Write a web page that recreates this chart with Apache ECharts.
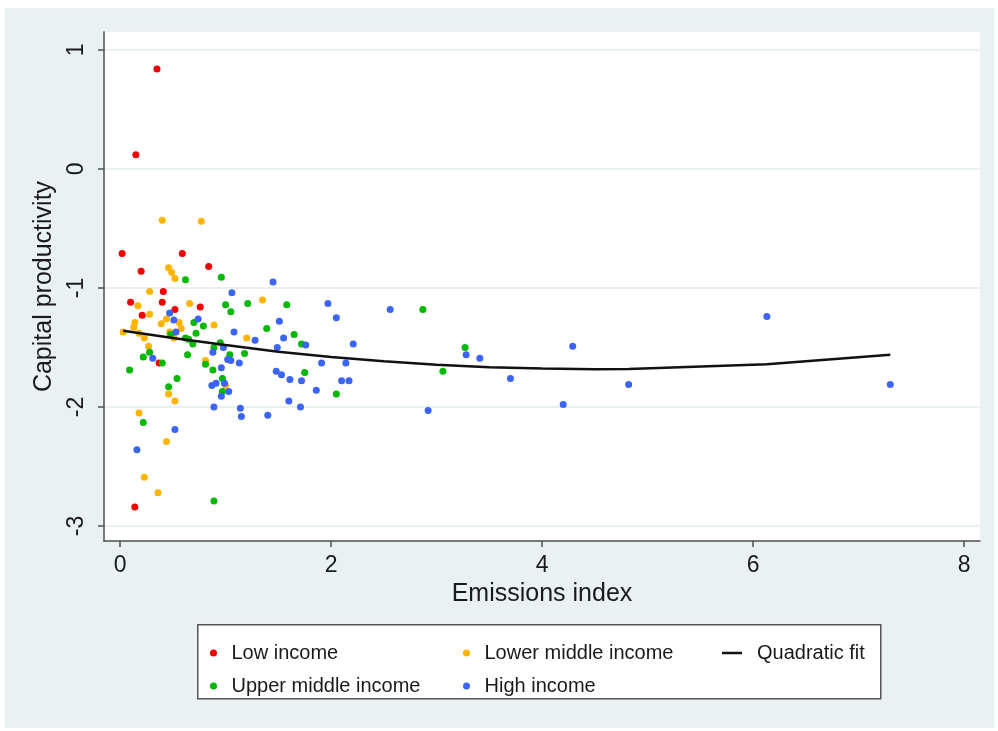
<!DOCTYPE html>
<html>
<head>
<meta charset="utf-8">
<script src="https://cdn.jsdelivr.net/npm/echarts@6/dist/echarts.min.js"></script>
<style>
html,body{margin:0;padding:0;background:#fff;}
#bg{position:absolute;left:5px;top:8px;width:989px;height:720px;background:#eaf1f3;}
#chart{position:absolute;left:0;top:0;width:998px;height:731px;}
</style>
</head>
<body>
<div id="bg"></div>
<div id="chart"></div>
<script>
// ---- data ----
const xTicks = [0, 2, 4, 6, 8];
const yTicks = [-3, -2, -1, 0, 1];
const seriesNames = ['Low income', 'Lower middle income', 'Upper middle income', 'High income', 'Quadratic fit'];

const lowIncome = [[0.35,0.84],[0.15,0.12],[0.02,-0.71],[0.20,-0.86],[0.41,-1.03],[0.10,-1.12],[0.40,-1.12],
  [0.52,-1.18],[0.21,-1.23],[0.37,-1.63],[0.14,-2.84],[0.59,-0.71],[0.84,-0.82],[0.76,-1.16]];

const lowerMiddleIncome = [[0.40,-0.43],[0.77,-0.44],[0.46,-0.83],[0.49,-0.87],[0.52,-0.92],[0.28,-1.03],
  [0.17,-1.15],[0.28,-1.22],[0.44,-1.26],[0.56,-1.29],[0.39,-1.30],[0.14,-1.29],[0.13,-1.33],[0.03,-1.37],
  [0.18,-1.38],[0.23,-1.42],[0.47,-1.37],[0.51,-1.42],[0.27,-1.49],[0.66,-1.13],[1.35,-1.10],[0.89,-1.31],
  [0.58,-1.34],[1.20,-1.42],[0.81,-1.61],[1.00,-1.82],[0.46,-1.89],[0.52,-1.95],[0.18,-2.05],[0.44,-2.29],
  [0.23,-2.59],[0.36,-2.72]];

const upperMiddleIncome = [[0.48,-1.39],[0.28,-1.54],[0.22,-1.58],[0.40,-1.63],[0.54,-1.76],[0.09,-1.69],
  [0.46,-1.83],[0.22,-2.13],[0.89,-2.79],[0.62,-0.93],[0.96,-0.91],[1.00,-1.14],[1.21,-1.13],[1.58,-1.14],
  [1.05,-1.20],[0.70,-1.29],[0.79,-1.32],[0.72,-1.38],[1.39,-1.34],[1.65,-1.39],[1.72,-1.47],[0.62,-1.42],
  [0.65,-1.43],[0.69,-1.47],[0.95,-1.46],[0.89,-1.50],[1.18,-1.55],[0.64,-1.56],[0.81,-1.64],[1.04,-1.56],
  [0.88,-1.69],[1.75,-1.71],[2.05,-1.89],[0.97,-1.76],[0.97,-1.87],[2.87,-1.18],[3.27,-1.50],[3.06,-1.70]];

const highIncome = [[0.47,-1.21],[0.51,-1.27],[0.53,-1.37],[0.31,-1.59],[0.52,-2.19],[0.16,-2.36],[1.45,-0.95],
  [1.06,-1.04],[1.97,-1.13],[2.05,-1.25],[0.74,-1.26],[1.08,-1.37],[1.51,-1.28],[1.28,-1.44],[1.55,-1.42],
  [1.76,-1.48],[2.21,-1.47],[0.98,-1.50],[0.88,-1.54],[1.49,-1.50],[1.02,-1.60],[1.05,-1.61],[1.13,-1.63],
  [1.91,-1.63],[2.14,-1.63],[0.96,-1.67],[1.48,-1.70],[1.53,-1.73],[1.61,-1.77],[1.72,-1.78],[1.86,-1.86],
  [2.10,-1.78],[2.17,-1.78],[0.99,-1.80],[0.91,-1.80],[0.87,-1.82],[1.03,-1.87],[0.96,-1.91],[0.89,-2.00],
  [1.14,-2.01],[1.15,-2.08],[1.40,-2.07],[1.60,-1.95],[1.71,-2.00],[2.56,-1.18],[3.28,-1.56],[3.41,-1.59],
  [3.70,-1.76],[2.92,-2.03],[4.20,-1.98],[4.29,-1.49],[4.82,-1.81],[6.13,-1.24],[7.30,-1.81]];

const quadraticFit = [[0.03,-1.36],[0.5,-1.42],[1.0,-1.48],[1.5,-1.535],[2.0,-1.58],[2.5,-1.615],[3.0,-1.645],
  [3.5,-1.665],[4.0,-1.677],[4.5,-1.682],[4.82,-1.68],[6.13,-1.64],[7.30,-1.56]];

const colors = ['#f00000', '#ffb400', '#00b900', '#3c64f8', '#111111'];

// ---- chart ----
const FONT = '"Liberation Sans", Arial, Helvetica, sans-serif';
const TXT = '#1a1a1a';
const AX = '#505050';
const chart = echarts.init(document.getElementById('chart'), null, {renderer: 'canvas'});

function scatter(name, data, color) {
  return {
    name: name, type: 'scatter', data: data, symbol: 'circle', symbolSize: 7,
    itemStyle: {color: color, opacity: 1}, emphasis: {disabled: true}, z: 3
  };
}

const legendText = {fontSize: 20, color: TXT, fontFamily: FONT};

chart.setOption({
  backgroundColor: 'transparent',
  animation: false,
  grid: {left: 104, top: 32, right: 18, bottom: 190, show: true, backgroundColor: '#ffffff', borderWidth: 0},
  xAxis: {
    type: 'value', min: -0.152, max: 8.15,
    axisLine: {show: true, onZero: false, lineStyle: {color: AX, width: 1.5}},
    axisTick: {show: true, length: 6, customValues: xTicks, lineStyle: {color: AX, width: 1.5}},
    axisLabel: {customValues: xTicks, fontSize: 23, margin: 13, color: TXT, fontFamily: FONT},
    splitLine: {show: false},
    name: 'Emissions index', nameLocation: 'middle', nameGap: 41,
    nameTextStyle: {fontSize: 25, color: TXT, fontFamily: FONT}
  },
  yAxis: {
    type: 'value', min: -3.126, max: 1.151,
    axisLine: {show: true, onZero: false, lineStyle: {color: AX, width: 1.5}},
    axisTick: {show: true, length: 6, customValues: yTicks, lineStyle: {color: AX, width: 1.5}},
    axisLabel: {customValues: yTicks, rotate: 90, fontSize: 23, margin: 16, color: TXT, fontFamily: FONT},
    splitLine: {show: true, lineStyle: {color: '#e8f0f2', width: 2}},
    name: 'Capital productivity', nameLocation: 'middle', nameGap: 42,
    nameTextStyle: {fontSize: 25, color: TXT, fontFamily: FONT}
  },
  legend: [
    {left: 205, top: 638, orient: 'vertical', itemWidth: 26, itemHeight: 7, itemGap: 13, icon: 'circle',
      data: [seriesNames[0], seriesNames[2]], textStyle: legendText, selectedMode: false},
    {left: 458, top: 638, orient: 'vertical', itemWidth: 26, itemHeight: 7, itemGap: 13, icon: 'circle',
      data: [seriesNames[1], seriesNames[3]], textStyle: legendText, selectedMode: false},
    {left: 717, top: 638, orient: 'vertical', itemWidth: 20, itemHeight: 2.5, itemGap: 13,
      data: [{name: seriesNames[4], icon: 'rect'}], itemStyle: {color: '#111111'},
      textStyle: Object.assign({padding: [0, 0, 0, 10]}, legendText), selectedMode: false}
  ],
  graphic: [
    {type: 'rect', left: 197, top: 624, z: 1, silent: true,
      shape: {width: 683, height: 74}, style: {fill: '#ffffff', stroke: '#555555', lineWidth: 1.5}}
  ],
  series: [
    scatter(seriesNames[0], lowIncome, colors[0]),
    scatter(seriesNames[1], lowerMiddleIncome, colors[1]),
    scatter(seriesNames[2], upperMiddleIncome, colors[2]),
    scatter(seriesNames[3], highIncome, colors[3]),
    {name: seriesNames[4], type: 'line', data: quadraticFit, symbol: 'none', showSymbol: false, smooth: false,
      lineStyle: {color: colors[4], width: 2.5}, itemStyle: {color: colors[4]}, z: 4, emphasis: {disabled: true}}
  ]
});
</script>
</body>
</html>
